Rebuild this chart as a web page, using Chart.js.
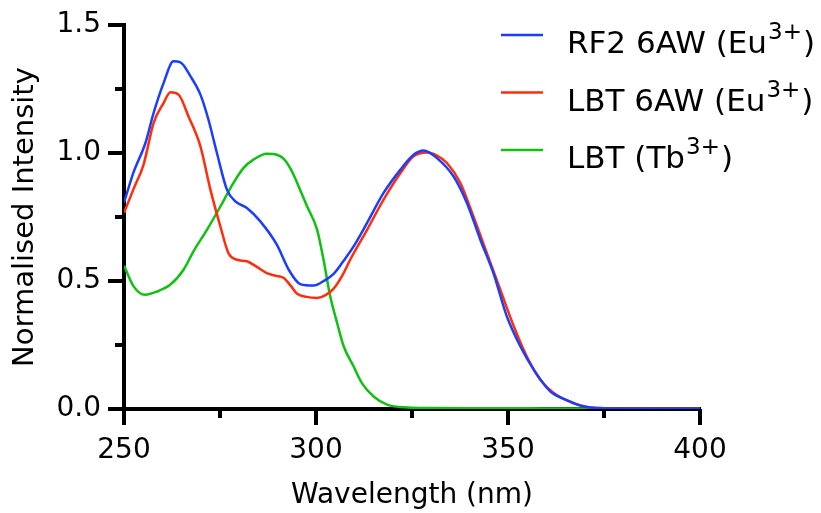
<!DOCTYPE html>
<html>
<head>
<meta charset="utf-8">
<script src="https://cdn.jsdelivr.net/npm/chart.js@4"></script>
<style>
  html, body { margin: 0; padding: 0; background: #fff; }
  #wrap { width: 821px; height: 513px; }
</style>
</head>
<body>
<div id="wrap"><canvas id="espectro"></canvas></div>
<script>
// datos (longitud de onda en nm, intensidad normalizada)
const rf2Wavelength = [250, 252.5, 255.6, 257.7, 260.3, 262.9, 264.7, 267.3, 269.9, 272, 274.2, 276.8, 279, 282, 285.5, 289.8, 292.9, 295.9, 299.4, 302, 304.6, 307, 309.8, 313.3, 317.6, 322, 325.4, 328, 331.5, 335.8, 339.3, 342.8, 346.2, 349.7, 353.2, 356.7, 361, 365.4, 369.7, 375, 380, 390, 400];
const rf2Intensity = [0.806, 0.925, 1.04, 1.156, 1.273, 1.358, 1.354, 1.30, 1.228, 1.13, 1.0, 0.857, 0.811, 0.785, 0.733, 0.642, 0.544, 0.488, 0.482, 0.50, 0.528, 0.575, 0.635, 0.727, 0.844, 0.935, 0.993, 1.01, 0.98, 0.909, 0.805, 0.661, 0.531, 0.362, 0.245, 0.154, 0.069, 0.034, 0.010, 0.003, 0.002, 0.001, 0.001];

const lbtEuWavelength = [250, 252.5, 255.1, 257.7, 260.3, 262.1, 264.2, 266.8, 269.9, 272.5, 275.1, 277.2, 279.4, 282, 284.5, 287.2, 289.5, 291.6, 293.5, 295.1, 297.5, 300.3, 302.5, 304.6, 306.8, 308.9, 313.3, 317.6, 322, 325.4, 328.9, 331.5, 334.1, 337.6, 341, 344.5, 348, 351.5, 354.9, 358.4, 361.9, 367.1, 370.6, 375, 380, 390, 400];
const lbtEuIntensity = [0.766, 0.86, 0.955, 1.117, 1.195, 1.237, 1.228, 1.143, 1.026, 0.857, 0.713, 0.609, 0.583, 0.577, 0.556, 0.531, 0.52, 0.512, 0.48, 0.45, 0.438, 0.434, 0.445, 0.470, 0.52, 0.583, 0.70, 0.818, 0.922, 0.987, 1.002, 0.99, 0.961, 0.883, 0.752, 0.609, 0.466, 0.323, 0.205, 0.114, 0.0625, 0.023, 0.008, 0.003, 0.002, 0.001, 0.001];

const lbtTbWavelength = [250, 252.5, 255.5, 258.6, 262.1, 265.5, 268.1, 271.6, 275.1, 278.5, 281.1, 283.7, 287.2, 289.8, 291.6, 293.5, 295.1, 297.7, 300.3, 302, 303.7, 305.5, 307.2, 309.8, 312, 315, 318.5, 324, 330, 340, 350, 360, 370, 380, 400];
const lbtTbIntensity = [0.56, 0.479, 0.446, 0.459, 0.486, 0.544, 0.616, 0.70, 0.791, 0.883, 0.941, 0.974, 0.997, 0.993, 0.977, 0.935, 0.883, 0.791, 0.70, 0.58, 0.44, 0.336, 0.245, 0.166, 0.10, 0.049, 0.017, 0.006, 0.004, 0.003, 0.003, 0.002, 0.002, 0.001, 0.001];

const nombres = ["RF2 6AW (Eu", "LBT 6AW (Eu", "LBT (Tb"];
const superindice = "3+";
const colores = ["#1a3dff", "#ff2d0a", "#12c012"];

const xTicks = [250, 300, 350, 400];
const xMinor = [275, 325, 375];
const yTicks = [0, 0.5, 1.0, 1.5];
const yMinor = [0.25, 0.75, 1.25];

const fuente = "'DejaVu Sans', Verdana, sans-serif";
Chart.defaults.font.family = fuente;
Chart.defaults.color = "#000";

function puntos(xs, ys) {
	return xs.map((x, i) => ({ x: x, y: ys[i] }));
}

// marcas de los ejes (mayores y menores)
const marcas = {
	id: "marcas",
	afterDraw(chart) {
		const c = chart.ctx;
		const xs = chart.scales.x;
		const ys = chart.scales.y;
		const area = chart.chartArea;
		c.save();
		c.strokeStyle = "#000";
		c.lineWidth = 4;
		c.beginPath();
		xTicks.concat(xMinor).forEach((v) => {
			const px = Math.round(xs.getPixelForValue(v));
			const largo = xTicks.includes(v) ? 16 : 9;
			c.moveTo(px, area.bottom);
			c.lineTo(px, area.bottom + largo);
		});
		yTicks.concat(yMinor).forEach((v) => {
			const py = Math.round(ys.getPixelForValue(v));
			const largo = yTicks.includes(v) ? 16 : 9;
			c.moveTo(area.left, py);
			c.lineTo(area.left - largo, py);
		});
		c.stroke();
		c.restore();
	},
};

// leyenda con superindice
const leyenda = {
	id: "leyenda",
	afterDraw(chart) {
		const c = chart.ctx;
		c.save();
		chart.data.datasets.forEach((ds, i) => {
			const yLinea = 35 + i * 57.5;
			c.strokeStyle = ds.borderColor;
			c.lineWidth = 2.5;
			c.beginPath();
			c.moveTo(501, yLinea);
			c.lineTo(543, yLinea);
			c.stroke();

			const base = yLinea + 18;
			let x = 567;
			c.fillStyle = "#000";
			c.textBaseline = "alphabetic";
			c.textAlign = "left";
			c.font = "31px " + fuente;
			c.fillText(nombres[i], x, base);
			x += c.measureText(nombres[i]).width + 1;
			c.font = "23px " + fuente;
			c.fillText(superindice, x, base - 14);
			x += c.measureText(superindice).width + 1;
			c.font = "31px " + fuente;
			c.fillText(")", x, base);
		});
		c.restore();
	},
};

const ctx = document.getElementById("espectro");
new Chart(ctx, {
	type: "line",
	data: {
		datasets: [
			{ label: "RF2 6AW (Eu³⁺)", data: puntos(rf2Wavelength, rf2Intensity), borderColor: colores[0] },
			{ label: "LBT 6AW (Eu³⁺)", data: puntos(lbtEuWavelength, lbtEuIntensity), borderColor: colores[1] },
			{ label: "LBT (Tb³⁺)", data: puntos(lbtTbWavelength, lbtTbIntensity), borderColor: colores[2] },
		],
	},
	options: {
		responsive: true,
		maintainAspectRatio: false,
		animation: false,
		layout: { padding: { top: 25, right: 121, left: 0, bottom: 0 } },
		elements: {
			point: { radius: 0 },
			line: { borderWidth: 2.5, cubicInterpolationMode: "monotone", fill: false },
		},
		plugins: {
			legend: { display: false },
			tooltip: { enabled: false },
		},
		scales: {
			x: {
				type: "linear",
				min: 250,
				max: 400,
				afterFit: (s) => { s.height = 104; s.paddingLeft = 0; s.paddingRight = 0; },
				afterBuildTicks: (s) => { s.ticks = xTicks.map((v) => ({ value: v })); },
				grid: { display: false, drawTicks: false },
				border: { display: true, width: 4, color: "#000" },
				ticks: { font: { size: 28 }, padding: 25, maxRotation: 0, callback: (v) => String(v) },
				title: { display: true, text: "Wavelength (nm)", font: { size: 28 }, padding: { top: 0, bottom: 0 } },
			},
			y: {
				min: 0,
				max: 1.5,
				afterFit: (s) => { s.width = 124; s.paddingTop = 0; s.paddingBottom = 0; },
				afterBuildTicks: (s) => { s.ticks = yTicks.map((v) => ({ value: v })); },
				grid: { display: false, drawTicks: false },
				border: { display: true, width: 4, color: "#000" },
				ticks: { font: { size: 28 }, padding: 23, callback: (v) => Number(v).toFixed(1) },
				title: { display: true, text: "Normalised Intensity", font: { size: 29 }, padding: { top: 8, bottom: 0 } },
			},
		},
	},
	plugins: [marcas, leyenda],
});
</script>
</body>
</html>
